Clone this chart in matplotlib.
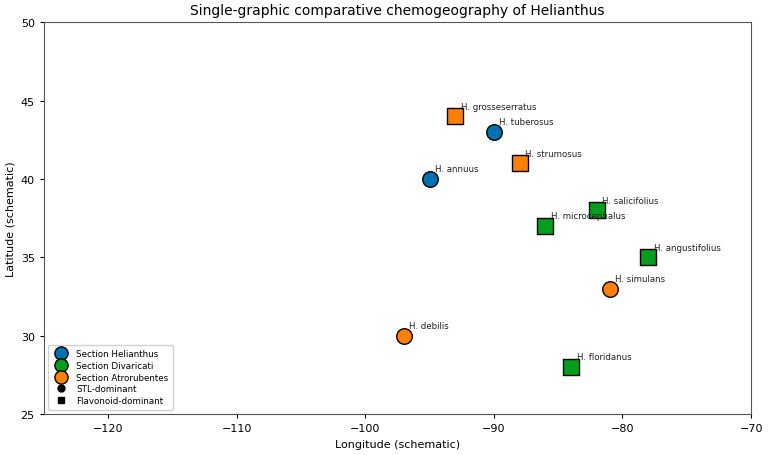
import matplotlib
matplotlib.use("Agg")
import matplotlib.pyplot as plt
from matplotlib.lines import Line2D

species = ["H. annuus", "H. tuberosus", "H. grosseserratus", "H. strumosus",
           "H. microcephalus", "H. salicifolius", "H. angustifolius",
           "H. simulans", "H. floridanus", "H. debilis"]
longitude = [-95, -90, -93, -88, -86, -82, -78, -81, -84, -97]
latitude = [40, 43, 44, 41, 37, 38, 35, 33, 28, 30]
section = ["Helianthus", "Helianthus", "Atrorubentes", "Atrorubentes",
           "Divaricati", "Divaricati", "Divaricati",
           "Atrorubentes", "Divaricati", "Atrorubentes"]
chem = ["STL", "STL", "Flavonoid", "Flavonoid",
        "Flavonoid", "Flavonoid", "Flavonoid",
        "STL", "Flavonoid", "STL"]

section_names = ["Helianthus", "Divaricati", "Atrorubentes"]
section_colors = {"Helianthus": "#0072B2", "Divaricati": "#029E1C", "Atrorubentes": "#FF8000"}
chem_markers = {"STL": "o", "Flavonoid": "s"}
chem_labels = {"STL": "STL-dominant", "Flavonoid": "Flavonoid-dominant"}

fig, ax = plt.subplots(figsize=(7.68, 4.56), dpi=100)
fig.subplots_adjust(left=0.057, right=0.978, top=0.949, bottom=0.09)

for name, x, y, sec, ch in zip(species, longitude, latitude, section, chem):
    ax.scatter([x], [y], s=125, marker=chem_markers[ch], c=section_colors[sec],
               edgecolors="black", linewidths=1.0, zorder=3)
    ax.annotate(name, (x, y), xytext=(4, 4), textcoords="offset points",
                ha="left", va="bottom", fontsize=6.2, color="#222222", zorder=4)

ax.set_xlim(-125, -70)
ax.set_ylim(25, 50)
ax.set_xticks([-120, -110, -100, -90, -80, -70])
ax.set_yticks([25, 30, 35, 40, 45, 50])
ax.tick_params(labelsize=8, length=3, width=0.8)
ax.set_xlabel("Longitude (schematic)", fontsize=8)
ax.set_ylabel("Latitude (schematic)", fontsize=8)
ax.set_title("Single-graphic comparative chemogeography of Helianthus", fontsize=10)
for sp in ax.spines.values():
    sp.set_color("#555555")

handles = []
for sn in section_names:
    handles.append(Line2D([], [], linestyle="none", marker="o", markersize=9.5,
                          markerfacecolor=section_colors[sn], markeredgecolor="black",
                          markeredgewidth=1.0, label="Section " + sn))
for ch in ["STL", "Flavonoid"]:
    handles.append(Line2D([], [], linestyle="none", marker=chem_markers[ch], markersize=5,
                          color="black", label=chem_labels[ch]))
ax.legend(handles=handles, loc="lower left", fontsize=6.3, handletextpad=0.7,
          labelspacing=0.32, borderpad=0.5, framealpha=0.9)

fig.savefig("out.png", dpi=100)
